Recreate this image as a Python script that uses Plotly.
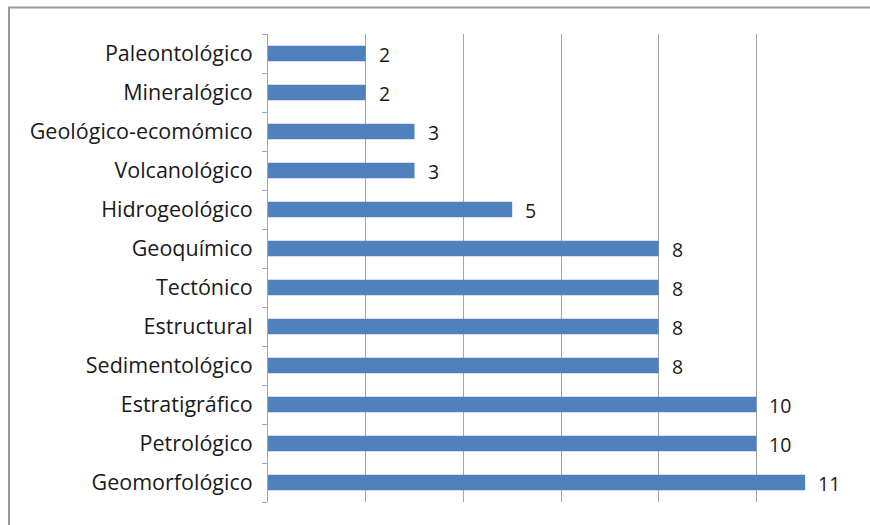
import plotly.graph_objects as go

# Categories listed bottom-to-top (as they stack on the y axis)
categorias = [
    "Geomorfológico", "Petrológico", "Estratigráfico", "Sedimentológico",
    "Estructural", "Tectónico", "Geoquímico", "Hidrogeológico",
    "Volcanológico", "Geológico-ecomómico", "Mineralógico", "Paleontológico",
]
valores = [11, 10, 10, 8, 8, 8, 8, 5, 3, 3, 2, 2]

x_ticks = [0, 2, 4, 6, 8, 10, 12]

W, H = 870, 525
L, R, T, B = 268, 16, 33.5, 22.5
pw, ph = W - L - R, H - T - B

FONT = "Open Sans, Lato, sans-serif"

fig = go.Figure(go.Bar(
    y=categorias,
    x=valores,
    orientation="h",
    marker=dict(color="#4F81BD", line=dict(width=0)),
    hoverinfo="x+y",
))

# value labels to the right of each bar
for c, v in zip(categorias, valores):
    fig.add_annotation(
        x=v, y=c, text=str(v), showarrow=False,
        xanchor="left", xshift=11, yshift=-1,
        font=dict(family=FONT, size=19.5, color="#1a1a1a"),
    )

# outer frame around the chart
def px_x(p):
    return (p - L) / pw

def px_y(p):
    return (H - B - p) / ph

fig.add_shape(
    type="rect", xref="paper", yref="paper",
    x0=px_x(9), x1=px_x(900), y0=px_y(560), y1=px_y(7),
    line=dict(color="#9a9a9a", width=2), fillcolor="rgba(0,0,0,0)",
    layer="below",
)

fig.update_layout(
    width=W, height=H,
    margin=dict(l=L, r=R, t=T, b=B, pad=0),
    paper_bgcolor="white", plot_bgcolor="white",
    bargap=0.6,
    showlegend=False,
    font=dict(family=FONT, size=19, color="#1a1a1a"),
    xaxis=dict(
        range=[0, 12], tickvals=x_ticks, showticklabels=False,
        showgrid=True, gridcolor="#a6a6a6", gridwidth=1,
        zeroline=False, showline=False, fixedrange=True,
    ),
    yaxis=dict(
        showline=True, linecolor="#a6a6a6", linewidth=1,
        ticks="outside", tickson="boundaries", ticklen=5, tickcolor="#a6a6a6",
        showgrid=False, ticklabelstandoff=10,
        tickfont=dict(family=FONT, size=21.5, color="#1a1a1a"),
        fixedrange=True,
    ),
)

fig.write_html("out.html")
